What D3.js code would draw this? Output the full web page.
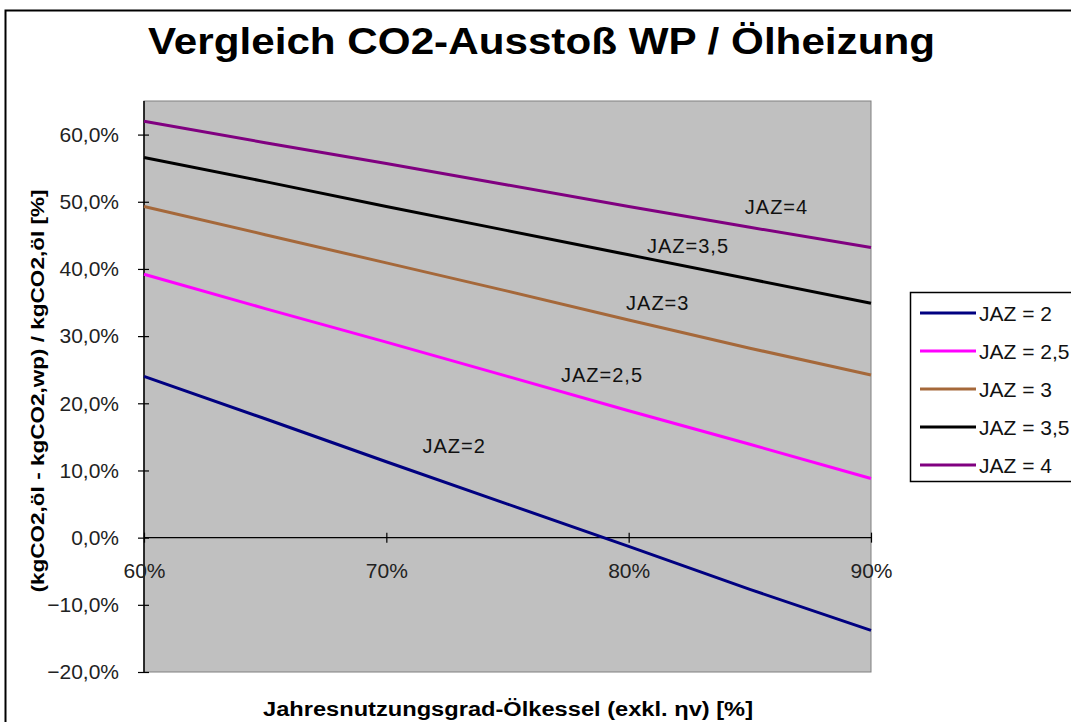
<!DOCTYPE html>
<html><head><meta charset="utf-8">
<script src="https://cdn.jsdelivr.net/npm/d3@7"></script>
<style>body{margin:0;background:#fff;} text{font-family:Arial,"Liberation Sans",sans-serif;}</style>
</head><body>
<svg id="c" width="1071" height="722"></svg>
<script>
// Data
const etaValues = [0.60, 0.65, 0.70, 0.75, 0.80, 0.85, 0.90];
const seriesNames = ["JAZ = 2", "JAZ = 2,5", "JAZ = 3", "JAZ = 3,5", "JAZ = 4"];
const jaz2   = [0.240, 0.177, 0.113, 0.050, -0.013, -0.077, -0.138];
const jaz25  = [0.392, 0.341, 0.291, 0.240, 0.189, 0.139, 0.088];
const jaz3   = [0.493, 0.451, 0.409, 0.367, 0.324, 0.282, 0.242];
const jaz35  = [0.566, 0.530, 0.493, 0.457, 0.421, 0.385, 0.349];
const jaz4   = [0.620, 0.588, 0.557, 0.525, 0.493, 0.462, 0.432];
const seriesValues = [jaz2, jaz25, jaz3, jaz35, jaz4];
const seriesColors = ["#000080", "#ff00ff", "#a5683a", "#000000", "#800080"];
const xTicks = [0.6, 0.7, 0.8, 0.9];
const yTicks = [-0.2, -0.1, 0, 0.1, 0.2, 0.3, 0.4, 0.5, 0.6];
const inlineLabels = [
  {text: "JAZ=2",   x: 0.728, y: 0.126},
  {text: "JAZ=2,5", x: 0.789, y: 0.232},
  {text: "JAZ=3",   x: 0.812, y: 0.339},
  {text: "JAZ=3,5", x: 0.8245, y: 0.424},
  {text: "JAZ=4",   x: 0.861, y: 0.482}
];

const svg = d3.select("#c");
// outer chart border (clipped)
svg.append("rect").attr("x",5.5).attr("y",10.5).attr("width",1080).attr("height",730)
  .attr("fill","#fff").attr("stroke","#000").attr("stroke-width",2);

const L=144, R=871, T=101, B=672;
const x = d3.scaleLinear().domain([0.6,0.9]).range([L,R]);
const y = d3.scaleLinear().domain([-0.2,0.65]).range([B,T]);

svg.append("rect").attr("x",L).attr("y",T).attr("width",R-L).attr("height",B-T)
  .attr("fill","#c0c0c0").attr("stroke","#808080").attr("stroke-width",1);

// title
svg.append("text").attr("x",148).attr("y",54)
  .attr("font-size",36).attr("font-weight","bold")
  .attr("textLength",787).attr("lengthAdjust","spacingAndGlyphs")
  .text("Vergleich CO2-Ausstoß WP / Ölheizung");

// y axis
const yAxis = svg.append("g").attr("transform",`translate(${L},0)`)
  .call(d3.axisLeft(y).tickValues(yTicks).tickSize(6).tickPadding(19)
    .tickFormat(d => d3.format(".1f")(d*100).replace(".",",")+"%"));
yAxis.select(".domain").attr("stroke","#000").attr("stroke-width",1.5).attr("d",`M0,${T}V${B}`);
yAxis.selectAll(".tick line").attr("x1",-6).attr("x2",5).attr("stroke","#000").attr("stroke-width",1.2);
yAxis.selectAll("text").attr("font-size",21).attr("fill","#222").attr("font-family","Arial, Liberation Sans, sans-serif");

// x axis at y=0
const xAxis = svg.append("g").attr("transform",`translate(0,${y(0)})`)
  .call(d3.axisBottom(x).tickValues(xTicks).tickSize(5)
    .tickFormat(d => Math.round(d*100)+"%"));
xAxis.select(".domain").attr("stroke","#000").attr("stroke-width",1.2).attr("d",`M${L},0H${R}`);
xAxis.selectAll(".tick line").attr("y1",-5).attr("y2",5).attr("stroke","#000").attr("stroke-width",1.2);
xAxis.selectAll("text").attr("font-size",21).attr("fill","#222").attr("y",40).attr("dy",null)
  .attr("font-family","Arial, Liberation Sans, sans-serif");

// lines
const line = d3.line().x((d,i)=>x(etaValues[i])).y(d=>y(d));
seriesValues.forEach((vals,k)=>{
  svg.append("path").datum(vals).attr("d",line).attr("fill","none")
    .attr("stroke",seriesColors[k]).attr("stroke-width",3);
});

// inline labels
inlineLabels.forEach(l=>{
  svg.append("text").attr("x",x(l.x)).attr("y",y(l.y)).attr("text-anchor","middle")
    .attr("font-size",20).attr("letter-spacing",1).attr("fill","#111").text(l.text);
});

// axis titles
svg.append("text").attr("transform",`translate(44,391) rotate(-90)`).attr("text-anchor","middle")
  .attr("font-size",19).attr("font-weight","bold")
  .attr("textLength",403).attr("lengthAdjust","spacingAndGlyphs")
  .text("(kgCO2,öl - kgCO2,wp) / kgCO2,öl [%]");
svg.append("text").attr("x",508).attr("y",716).attr("text-anchor","middle")
  .attr("font-size",20).attr("font-weight","bold")
  .attr("textLength",490).attr("lengthAdjust","spacingAndGlyphs")
  .text("Jahresnutzungsgrad-Ölkessel (exkl. ηv) [%]");

// legend
const lg = svg.append("g");
lg.append("rect").attr("x",910.5).attr("y",292.5).attr("width",200).attr("height",189)
  .attr("fill","#fff").attr("stroke","#000").attr("stroke-width",1.5);
seriesNames.forEach((n,k)=>{
  const yy = 313 + k*38;
  lg.append("line").attr("x1",920).attr("x2",976).attr("y1",yy).attr("y2",yy)
    .attr("stroke",seriesColors[k]).attr("stroke-width",3);
  lg.append("text").attr("x",979).attr("y",yy+8).attr("font-size",21).attr("fill","#111").text(n);
});
</script>
</body></html>
